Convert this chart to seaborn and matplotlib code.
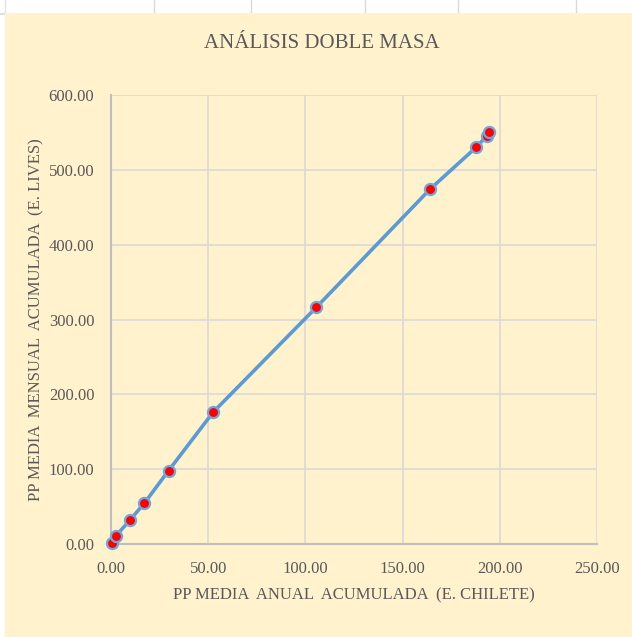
import matplotlib
matplotlib.use("Agg")
import matplotlib.pyplot as plt
import seaborn as sns
import pandas as pd
from matplotlib.patches import Rectangle
from matplotlib.lines import Line2D
from matplotlib.ticker import FormatStrFormatter, MultipleLocator

pp_anual_chilete = [0.3, 2.4, 9.6, 17.1, 29.6, 52.6, 105.7, 164.3, 188.0, 193.2, 194.4]
pp_mensual_lives = [1.5, 10.5, 31.5, 54.4, 98.0, 176.3, 316.5, 474.6, 530.5, 545.0, 550.0]

title = "ANÁLISIS DOBLE MASA"
xlabel = "PP MEDIA  ANUAL  ACUMULADA  (E. CHILETE)"
ylabel = "PP MEDIA  MENSUAL  ACUMULADA  (E. LIVES)"

df = pd.DataFrame({"x": pp_anual_chilete, "y": pp_mensual_lives})

sns.set_theme(style="white")
plt.rcParams["font.family"] = ["Liberation Serif", "DejaVu Serif"]

W, H = 632, 637
fig = plt.figure(figsize=(W / 100, H / 100), dpi=100)
fig.patch.set_facecolor("white")

bg = "#FFF2CC"
# chart area background
fig.patches.append(Rectangle((5 / W, 0), 1 - 5 / W, 1 - 13 / H, transform=fig.transFigure,
                             facecolor=bg, edgecolor="none", zorder=-10))
# spreadsheet cell borders above chart
for xc in [154, 251, 365, 458, 576]:
    fig.lines.append(Line2D([xc / W, xc / W], [1 - 13 / H, 1], transform=fig.transFigure,
                            color="#D9D9D9", lw=1, zorder=-10))
fig.lines.append(Line2D([0, 1], [1 - 13.5 / H, 1 - 13.5 / H], transform=fig.transFigure,
                        color="#D9D9D9", lw=1.2, zorder=-10))
fig.lines.append(Line2D([4.5 / W, 4.5 / W], [0, 1], transform=fig.transFigure,
                        color="#E3E3E3", lw=1, zorder=-10))

ax = fig.add_axes([111 / W, 1 - 544 / H, (597 - 111) / W, (544 - 95) / H])
ax.set_zorder(5)
ax.set_facecolor(bg)

sns.lineplot(data=df, x="x", y="y", ax=ax, sort=False, color="#5B9BD5", linewidth=2.6,
             marker="o", markersize=8, markerfacecolor="#FF0000",
             markeredgecolor="#6FA8DC", markeredgewidth=1.6, zorder=3, clip_on=False)

ax.set_xlim(0, 250)
ax.set_ylim(0, 600)
ax.xaxis.set_major_locator(MultipleLocator(50))
ax.yaxis.set_major_locator(MultipleLocator(100))
ax.xaxis.set_major_formatter(FormatStrFormatter("%.2f"))
ax.yaxis.set_major_formatter(FormatStrFormatter("%.2f"))
ax.grid(True, color="#D9D9D9", linewidth=1.2)
ax.set_axisbelow(True)
for s in ["top", "right"]:
    ax.spines[s].set_visible(False)
for s in ["left", "bottom"]:
    ax.spines[s].set_color("#BFBFBF")
    ax.spines[s].set_linewidth(1.5)
ax.tick_params(axis="x", length=0, labelsize=12, colors="#595959", pad=12)
ax.tick_params(axis="y", length=0, labelsize=12, colors="#595959", pad=12)

ax.set_xlabel(xlabel, fontsize=12, color="#595959", labelpad=8)
ax.set_ylabel(ylabel, fontsize=12, color="#595959")
ax.yaxis.set_label_coords((44 - 111) / (597 - 111), 0.5)
fig.text(322 / W, 1 - 43 / H, title, ha="center", va="center",
         fontsize=15, color="#595959", zorder=6)

fig.savefig("out.png", dpi=100, facecolor=fig.get_facecolor())
